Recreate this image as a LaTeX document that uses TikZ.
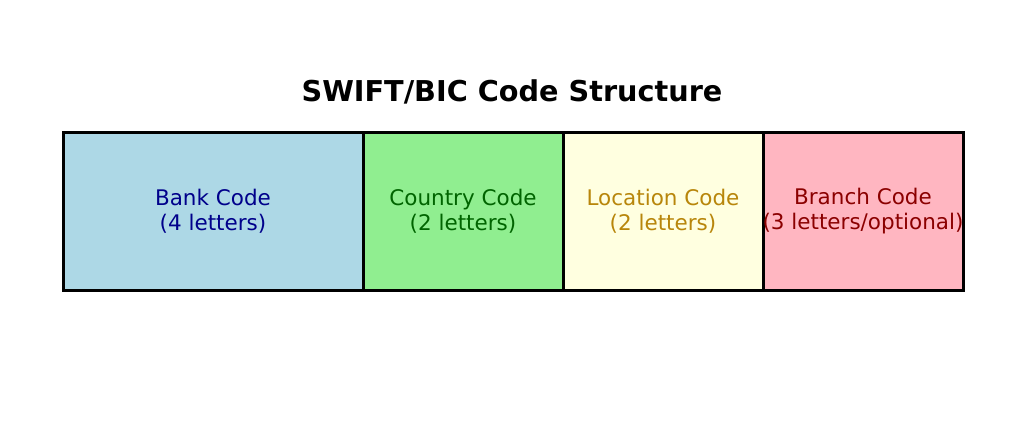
\documentclass[tikz,border=0pt]{standalone}
\usepackage{fontspec}
\setmainfont{DejaVu Sans}
\definecolor{lblue}{RGB}{173,216,230}
\definecolor{lgreen}{RGB}{144,238,144}
\definecolor{lyellow}{RGB}{255,255,224}
\definecolor{lpink}{RGB}{255,182,193}
\definecolor{dblue}{RGB}{0,0,139}
\definecolor{dgreen}{RGB}{0,100,0}
\definecolor{dgold}{RGB}{184,134,11}
\definecolor{dred}{RGB}{139,0,0}
\begin{document}
\begin{tikzpicture}[x=1pt,y=-1pt,
  seg/.style={draw=black,line width=3pt},
  lbl/.style={align=center,inner sep=0pt,font=\fontsize{21.5}{24.5}\selectfont}]
\useasboundingbox (0,0) rectangle (1024,423);
\node[font=\bfseries\fontsize{28.7}{32}\selectfont] (title) at (512,92) {SWIFT/BIC Code Structure};
\path[seg,fill=lblue] (63,132) rectangle (363,290);
\path[seg,fill=lgreen] (363,132) rectangle (563,290);
\path[seg,fill=lyellow] (563,132) rectangle (763,290);
\path[seg,fill=lpink] (763,132) rectangle (963,290);
\node[lbl,text=dblue] (bank) at (213,211) {Bank Code\\(4 letters)};
\node[lbl,text=dgreen] (country) at (463,211) {Country Code\\(2 letters)};
\node[lbl,text=dgold] (loc) at (663,211) {Location Code\\(2 letters)};
\node[lbl,text=dred] (branch) at (863,211) {Branch Code\\(3 letters/optional)};
\end{tikzpicture}
\end{document}
